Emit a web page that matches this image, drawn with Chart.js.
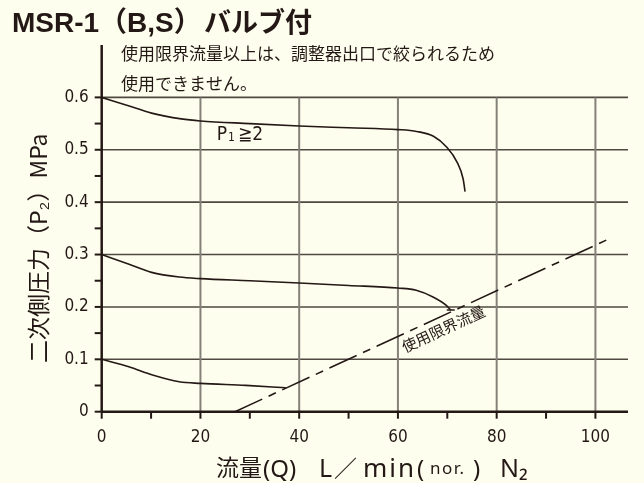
<!DOCTYPE html>
<html>
<head>
  <title>MSR-1(B,S) バルブ付</title>
  <script src="https://cdn.jsdelivr.net/npm/chart.js"></script>
  <style>
    body { margin: 0; background: #fefeee; }
    .chart-container { width: 644px; height: 483px; }
  </style>
</head>
<body>
  <div class="chart-container"><canvas id="flowChart"></canvas></div>
  <script>
    // curves (flow L/min, pressure MPa)
    const flowHigh = [0, 5.4, 10.1, 16.1, 20, 30, 40, 50, 60, 63.8, 67.2, 69.9, 72, 73.2, 73.6];
    const presHigh = [0.6, 0.584, 0.570, 0.559, 0.555, 0.550, 0.5455, 0.542, 0.5385, 0.535, 0.5257, 0.5048, 0.476, 0.4446, 0.420];

    const flowMid = [0, 5.4, 10.1, 15.7, 20, 30, 40, 50, 60, 63.7, 67.1, 69.8, 70.7];
    const presMid = [0.3, 0.282, 0.266, 0.257, 0.254, 0.250, 0.2457, 0.241, 0.236, 0.2318, 0.219, 0.203, 0.194];

    const flowLow = [0, 5.5, 10.3, 15.7, 20, 29.2, 37.3];
    const presLow = [0.1, 0.0857, 0.0699, 0.0571, 0.054, 0.0503, 0.0457];

    // 使用限界流量 line
    const limitFlow = [27, 103];
    const limitPres = [0, 0.331];

    const xTickValues = [0, 20, 40, 60, 80, 100];
    const yTickValues = [0, 0.1, 0.2, 0.3, 0.4, 0.5, 0.6];

    const ink = '#231815';
    const jpFont = "'Noto Sans CJK JP', sans-serif";
    const latFont = "'Noto Sans', sans-serif";
    const numFont = "'DejaVu Sans Condensed', 'DejaVu Sans', sans-serif";

    const pts = (xs, ys) => xs.map((v, i) => ({ x: v, y: ys[i] }));
    const onTick = (v, list) => list.some(t => Math.abs(t - v) < 1e-6);

    const curve = (xs, ys) => ({
      data: pts(xs, ys),
      borderColor: ink,
      borderWidth: 1.6,
      pointRadius: 0,
      cubicInterpolationMode: 'monotone'
    });

    const frame = {
      id: 'frame',
      beforeDatasetsDraw(chart) {
        const { ctx, scales: { x, y } } = chart;
        const line = (x1, y1, x2, y2) => { ctx.beginPath(); ctx.moveTo(x1, y1); ctx.lineTo(x2, y2); ctx.stroke(); };
        const y0 = y.getPixelForValue(0);
        const yTop = y.getPixelForValue(0.6);
        ctx.save();
        // grid
        ctx.lineWidth = 1.6;
        ctx.strokeStyle = '#4e4840';
        yTickValues.slice(1).forEach(v => { const py = y.getPixelForValue(v); line(x.left, py, x.right, py); });
        ctx.lineWidth = 2;
        ctx.strokeStyle = '#85807a';
        xTickValues.slice(1).forEach(v => { const px = x.getPixelForValue(v); line(px, y0, px, yTop); });
        // axes
        ctx.lineWidth = 2.5;
        ctx.strokeStyle = ink;
        line(x.left, y0, x.right, y0);
        line(x.left, y.top, x.left, y0);
        // tick marks
        ctx.lineWidth = 2;
        for (let v = 0; v <= 0.6001; v += 0.05) {
          const py = y.getPixelForValue(v);
          line(x.left - 7, py, x.left, py);
        }
        for (let v = 0; v <= 100; v += 10) {
          const px = x.getPixelForValue(v);
          line(px, y0, px, y0 + 7);
        }
        ctx.restore();
      },
      afterDraw(chart) {
        const { ctx, scales: { x, y } } = chart;
        const put = (text, font, px, py, spacing) => {
          ctx.font = font;
          ctx.letterSpacing = (spacing || 0) + 'px';
          ctx.fillText(text, px, py);
          ctx.letterSpacing = '0px';
        };
        ctx.save();
        ctx.fillStyle = ink;
        ctx.textAlign = 'left';

        // title
        ctx.textBaseline = 'alphabetic';
        put('MSR-1（B,S）', "bold 28px 'Liberation Sans', " + jpFont, 12, 32);
        put('バルブ付', 'bold 27px ' + jpFont, 204, 32);

        // note
        ctx.textBaseline = 'middle';
        put('使用限界流量以上は、調整器出口で絞られるため', '17px ' + jpFont, 121, 54);
        put('使用できません。', '17px ' + jpFont, 121, 84);

        // P1 label
        let lx = x.getPixelForValue(23.3), ly = y.getPixelForValue(0.529);
        put('P', '19px ' + numFont, lx, ly);
        lx += ctx.measureText('P').width + 1;
        put('1', '12px ' + numFont, lx, ly + 3);
        lx += ctx.measureText('1').width + 3;
        put('≧2', '19px ' + numFont, lx, ly);

        // limit line label
        const ax = x.getPixelForValue(limitFlow[0]), ay = y.getPixelForValue(limitPres[0]);
        const bx = x.getPixelForValue(limitFlow[1]), by = y.getPixelForValue(limitPres[1]);
        ctx.save();
        ctx.translate(x.getPixelForValue(68.2), y.getPixelForValue(0.179));
        ctx.rotate(Math.atan2(by - ay, bx - ax));
        ctx.textAlign = 'center';
        put('使用限界流量', '15px ' + jpFont, 0, 12);
        ctx.restore();

        // y axis title
        ctx.save();
        ctx.translate(38, 363);
        ctx.rotate(-Math.PI / 2);
        ctx.textAlign = 'left';
        put('二次側圧力（P₂）MPa', '23px ' + jpFont, 0, 0);
        ctx.restore();

        // x axis title
        ctx.textBaseline = 'alphabetic';
        const by0 = 477;
        put('流量', '23px ' + jpFont, 216, by0 - 1);
        put('(Q)', '24px ' + latFont, 263, by0);
        put('L', '25px ' + latFont, 319, by0);
        put('／', '23px ' + jpFont, 334, by0);
        put('min', '26px ' + latFont, 363, by0, 2);
        put('(', '24px ' + latFont, 417, by0);
        put('nor.', '17px ' + latFont, 430, by0 - 3, 1.5);
        put(')', '24px ' + latFont, 473, by0);
        put('N', '25px ' + latFont, 500, by0);
        put('₂', '25px ' + latFont, 519, by0);
        ctx.restore();
      }
    };

    new Chart(document.getElementById('flowChart'), {
      type: 'line',
      data: {
        datasets: [
          curve(flowHigh, presHigh),
          curve(flowMid, presMid),
          curve(flowLow, presLow),
          {
            data: [{ x: flowMid[flowMid.length - 1], y: presMid[presMid.length - 1] }],
            showLine: false,
            pointStyle: 'line',
            pointRadius: 4,
            borderColor: ink,
            borderWidth: 1.5
          },
          {
            data: pts(limitFlow, limitPres),
            borderColor: ink,
            borderWidth: 1.6,
            borderDash: [30, 7, 8, 7],
            pointRadius: 0
          }
        ]
      },
      options: {
        responsive: true,
        maintainAspectRatio: false,
        animation: false,
        layout: { padding: { top: 45, right: 16, left: 0, bottom: 0 } },
        plugins: {
          legend: { display: false },
          tooltip: { enabled: false }
        },
        scales: {
          x: {
            type: 'linear',
            min: 0,
            max: 106.6,
            afterFit(s) { s.height = 71.3; },
            grid: { display: false, drawTicks: false },
            border: { display: false },
            ticks: {
              stepSize: 20,
              autoSkip: false,
              includeBounds: false,
              maxRotation: 0,
              padding: 16,
              color: ink,
              font: { family: numFont, size: 17 },
              callback: v => onTick(v, xTickValues) ? String(Math.round(v)) : ''
            }
          },
          y: {
            min: 0,
            max: 0.7,
            afterFit(s) { s.width = 101.7; },
            grid: { display: false, drawTicks: false },
            border: { display: false },
            ticks: {
              stepSize: 0.1,
              autoSkip: false,
              padding: 13,
              color: ink,
              font: { family: numFont, size: 17 },
              callback: v => onTick(v, yTickValues) ? (v === 0 ? '0' : v.toFixed(1)) : ''
            }
          }
        }
      },
      plugins: [frame]
    });
  </script>
</body>
</html>
